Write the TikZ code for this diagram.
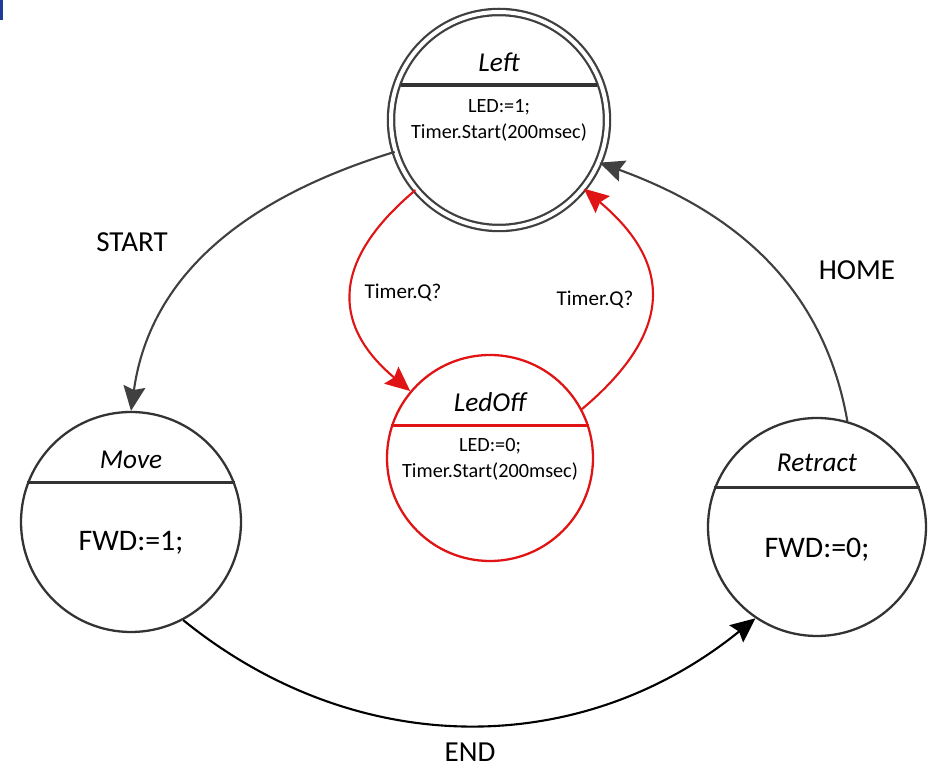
\documentclass[tikz,border=0pt]{standalone}
\usepackage{fontspec}
\setmainfont{Carlito}
\usepackage{xcolor}
\definecolor{Ink}{HTML}{333333}
\definecolor{Edge}{HTML}{404040}
\definecolor{Alarm}{HTML}{E01414}
\definecolor{Mark}{HTML}{1F3C9B}
\usetikzlibrary{arrows.meta,calc}

\begin{document}
\begin{tikzpicture}[
  state/.style={circle,draw=Ink,line width=1.3pt,inner sep=0pt},
  title/.style={font=\fontsize{15.5}{18}\selectfont\itshape},
  body/.style={align=center,font=\fontsize{11.5}{14.7}\selectfont},
  big/.style={font=\fontsize{17}{20}\selectfont},
  lbl/.style={font=\fontsize{16.5}{19}\selectfont},
  small/.style={font=\fontsize{12}{14}\selectfont},
  arrow/.style={-{Stealth[length=14pt,width=12.5pt,inset=2pt]},line width=1.2pt,draw=Edge},
  divider/.style={line width=1.8pt}
]
  \useasboundingbox (0,0) rectangle (18.72,15.38);
  \fill[Mark] (0,15.38) rectangle (0.06,14.98);

  % states
  \node[state,draw=Edge,double,double distance=0.08cm,line width=0.045cm,minimum size=4.32cm] (left) at (9.98,12.98) {};
  \node[state,draw=Alarm,minimum size=4.12cm] (ledoff) at (9.80,6.22) {};
  \node[state,minimum size=4.40cm] (move) at (2.62,4.94) {};
  \node[state,minimum size=4.36cm] (retract) at (16.34,4.84) {};

  \draw[divider,draw=Ink] ($(left.center)+(-1.96,0.70)$) -- ($(left.center)+(1.96,0.70)$);
  \draw[divider,draw=Alarm] (ledoff.18) -- (ledoff.162);
  \draw[divider,draw=Ink] (move.21) -- (move.159);
  \draw[divider,draw=Ink] (retract.21) -- (retract.159);

  \node[title] (left-name) at ($(left.center)+(0,1.16)$) {Left};
  \node[body] (left-do) at (left.center) {LED:=1;\\Timer.Start(200msec)};
  \node[title] (ledoff-name) at ($(ledoff.center)+(0,1.12)$) {LedOff};
  \node[body] (ledoff-do) at ($(ledoff.center)+(0,-0.03)$) {LED:=0;\\Timer.Start(200msec)};
  \node[title] (move-name) at ($(move.center)+(0,1.24)$) {Move};
  \node[big] (move-do) at ($(move.center)+(0,-0.42)$) {FWD:=1;};
  \node[title] (retract-name) at ($(retract.center)+(0,1.28)$) {Retract};
  \node[big] (retract-do) at ($(retract.center)+(0,-0.46)$) {FWD:=0;};

  % transitions
  \draw[arrow] (left.197) to[out=197,in=82] (move.90);
  \draw[arrow,draw=black] (move.-62) to[out=-39,in=-141] (retract.236);
  \draw[arrow] (retract.74) to[out=100,in=-20] (left.337);
  \draw[arrow,draw=Alarm] (left.220) to[out=220,in=140,looseness=1.35] (ledoff.140);
  \draw[arrow,draw=Alarm] (ledoff.28) to[out=40,in=-40,looseness=1.37] (left.321);

  \node[lbl] (start) at (2.64,10.54) {START};
  \node[lbl] (end) at (9.40,0.33) {END};
  \node[lbl] (home) at (17.14,9.98) {HOME};
  \node[small] (tick-off) at (8.06,9.52) {Timer.Q?};
  \node[small] (tick-on) at (11.90,9.38) {Timer.Q?};
\end{tikzpicture}
\end{document}
